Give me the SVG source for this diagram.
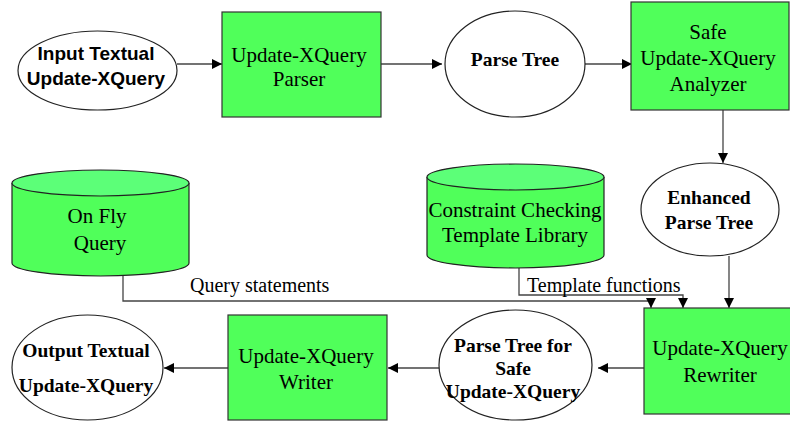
<svg xmlns="http://www.w3.org/2000/svg" width="790" height="421" viewBox="0 0 790 421">
<defs>
<style>
.box{fill:#50ff5a;stroke:#333;stroke-width:1.2}
.top{fill:#5cff78;stroke:#222;stroke-width:1.2}
.cyl{fill:#50ff5a;stroke:#222;stroke-width:1.2}
.ell{fill:#fff;stroke:#222;stroke-width:1.2}
.ln{fill:none;stroke:#444;stroke-width:1.3}
.s{font-family:"Liberation Serif","Times New Roman",serif;font-size:21px;fill:#000;text-anchor:middle}
.b{font-family:"Liberation Serif","Times New Roman",serif;font-size:19.5px;font-weight:bold;fill:#000;text-anchor:middle}
.a{font-family:"Liberation Sans",Arial,sans-serif;font-size:19px;font-weight:bold;fill:#000;text-anchor:middle}
.l{font-family:"Liberation Serif","Times New Roman",serif;font-size:20px;fill:#000}
</style>
<marker id="ah" markerUnits="userSpaceOnUse" markerWidth="12" markerHeight="10" refX="10" refY="5" orient="auto">
<path d="M0,0 L10,5 L0,10 Z" fill="#000"/>
</marker>
</defs>
<g id="connectors">
<line class="ln" x1="177" y1="64" x2="222" y2="64" marker-end="url(#ah)"/>
<line class="ln" x1="381" y1="64" x2="442" y2="64" marker-end="url(#ah)"/>
<line class="ln" x1="585" y1="64" x2="632" y2="64" marker-end="url(#ah)"/>
<line class="ln" x1="723" y1="110" x2="723" y2="163" marker-end="url(#ah)"/>
<line class="ln" x1="729" y1="256" x2="729" y2="308" marker-end="url(#ah)"/>
<polyline class="ln" points="123,276 123,301 651,301 651,308" marker-end="url(#ah)"/>
<polyline class="ln" points="519,268 519,295 683,295 683,308" marker-end="url(#ah)"/>
<line class="ln" x1="644" y1="368" x2="598" y2="368" marker-end="url(#ah)"/>
<line class="ln" x1="439" y1="368" x2="388" y2="368" marker-end="url(#ah)"/>
<line class="ln" x1="228" y1="368" x2="164" y2="368" marker-end="url(#ah)"/>
<text class="l" x="190" y="292">Query statements</text>
<text class="l" x="527" y="292">Template functions</text>
</g>
<g id="input">
<ellipse class="ell" cx="97.5" cy="70.5" rx="79.5" ry="39.5"/>
<text class="a" x="96" y="60">Input Textual</text>
<text class="a" x="96" y="85">Update-XQuery</text>
</g>
<g id="parser">
<rect class="box" x="222" y="12" width="159" height="105"/>
<text class="s" x="299" y="62">Update-XQuery</text>
<text class="s" x="299" y="86">Parser</text>
</g>
<g id="parsetree">
<ellipse class="ell" cx="515" cy="64" rx="70" ry="53"/>
<text class="b" x="515" y="66">Parse Tree</text>
</g>
<g id="analyzer">
<rect class="box" x="631" y="2" width="158" height="108"/>
<text class="s" x="708" y="39">Safe</text>
<text class="s" x="708" y="65">Update-XQuery</text>
<text class="s" x="708" y="91">Analyzer</text>
</g>
<g id="enhanced">
<ellipse class="ell" cx="710" cy="209.5" rx="69" ry="46.5"/>
<text class="b" x="709" y="204">Enhanced</text>
<text class="b" x="709" y="229">Parse Tree</text>
</g>
<g id="onfly">
<path class="cyl" d="M12,183 L12,263 A88.5,13 0 0 0 189,263 L189,183"/>
<ellipse class="top" cx="100.5" cy="183" rx="88.5" ry="13"/>
<text class="s" x="97" y="223">On Fly</text>
<text class="s" x="100" y="250">Query</text>
</g>
<g id="library">
<path class="cyl" d="M427,177 L427,255 A88.5,13 0 0 0 604,255 L604,177"/>
<ellipse class="top" cx="515.5" cy="177" rx="88.5" ry="13"/>
<text class="s" x="515" y="217">Constraint Checking</text>
<text class="s" x="515" y="242">Template Library</text>
</g>
<g id="rewriter">
<rect class="box" x="644" y="308" width="150" height="106"/>
<text class="s" x="720" y="355">Update-XQuery</text>
<text class="s" x="720" y="382">Rewriter</text>
</g>
<g id="safetree">
<ellipse class="ell" cx="515.5" cy="365" rx="76.5" ry="55"/>
<text class="b" x="513" y="352">Parse Tree for</text>
<text class="b" x="513" y="375">Safe</text>
<text class="b" x="513" y="398">Update-XQuery</text>
</g>
<g id="writer">
<rect class="box" x="228" y="315" width="159" height="105"/>
<text class="s" x="306" y="363">Update-XQuery</text>
<text class="s" x="306" y="389">Writer</text>
</g>
<g id="output">
<ellipse class="ell" cx="87.5" cy="367.5" rx="75.5" ry="52.5"/>
<text class="b" x="86" y="357">Output Textual</text>
<text class="b" x="86" y="392">Update-XQuery</text>
</g>
</svg>
